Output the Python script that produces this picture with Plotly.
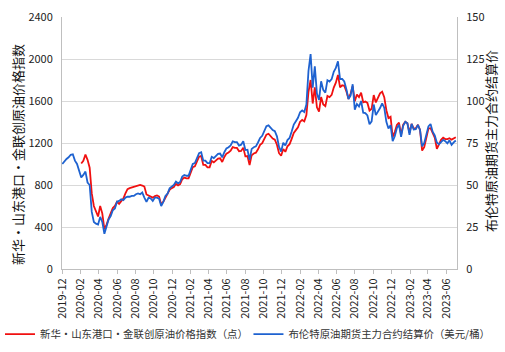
import pandas as pd
import plotly.graph_objects as go

# Brent front-month settlement (USD/bbl), weekly from 2019-12-02
brent = [
    # 2019-12
    62.5, 64.2, 65.5, 66.5, 68.0,
    # 2020
    68.3, 64.5, 62.5, 58.5,
    54.5, 56.0, 58.0, 51.5,
    50.0, 34.0, 28.0, 27.0, 26.5,
    31.0, 28.0, 21.0, 26.0,
    29.5, 31.5, 35.0, 36.0,
    40.0, 40.5, 41.5, 41.0, 42.5,
    43.0, 43.0, 43.5, 43.5,
    44.5, 45.0, 44.5, 45.5, 42.5,
    40.0, 42.5, 42.0, 40.5,
    42.5, 42.5, 41.8, 37.5,
    40.0, 43.5, 44.8, 48.0, 49.0,
    50.0, 52.0, 51.0, 51.8,
    # 2021
    55.0, 56.0, 55.5, 55.5,
    59.0, 62.5, 63.0, 66.0,
    69.0, 69.5, 64.5, 64.5, 63.0,
    63.0, 66.8, 66.0, 67.0,
    68.5, 68.7, 66.5, 69.5, 71.8,
    72.5, 73.5, 76.0, 75.5,
    75.5, 73.5, 74.0, 76.0,
    70.8, 71.0, 65.0, 71.5, 72.5,
    73.0, 75.3, 78.0, 79.3,
    82.5, 85.0, 85.5, 84.0,
    82.7, 82.0, 79.0, 72.7, 69.9,
    75.2, 73.5, 76.8, 78.0,
    # 2022
    81.8, 86.0, 88.0, 90.0, 93.3,
    94.4, 93.5, 97.9, 118.0,
    127.9, 107.9, 120.7, 104.4,
    100.6, 111.7, 106.6, 105.0,
    112.4, 111.6, 113.0, 117.4, 119.7,
    123.6, 113.1, 113.1, 111.6,
    107.0, 101.2, 103.2, 110.0,
    94.9, 98.2, 96.7, 100.0, 93.0,
    92.8, 91.4, 86.2, 87.9,
    97.9, 91.6, 93.5, 95.8, 98.6,
    96.0, 87.6, 83.6, 85.6,
    76.1, 79.0, 83.9, 85.9,
    # 2023
    78.6, 85.3, 87.6, 86.7, 79.9,
    86.4, 83.0, 83.2, 85.8,
    82.8, 73.0, 75.0, 79.9,
    84.9, 86.3, 81.7, 79.5,
    75.3, 74.2, 75.6, 76.9, 76.1,
    74.8, 76.6, 73.9, 75.4,
    76.5,
]

# Xinhua-Shandong Port-JLC crude oil price index (points), weekly from 2020-02-03
index_pts = [
    # 2020
    1005, 1030, 1090, 1040,
    965, 720, 600, 540, 500,
    600, 530, 380, 420,
    480, 530, 580, 600,
    640, 620, 640, 670, 720,
    760, 770, 775, 780,
    785, 790, 800, 795, 785,
    710, 700, 690, 680,
    695, 700, 690, 615,
    640, 680, 710, 755, 770,
    780, 812, 796, 809,
    # 2021
    855, 871, 863, 863,
    914, 970, 978, 1026,
    1069, 1077, 992, 992, 968,
    968, 1029, 1016, 1032,
    1051, 1054, 1019, 1067, 1099,
    1110, 1126, 1161, 1153,
    1153, 1121, 1124, 1156,
    1073, 1076, 990, 1084, 1100,
    1108, 1140, 1183, 1199,
    1245, 1280, 1288, 1264,
    1243, 1232, 1184, 1103, 1078,
    1143, 1116, 1169, 1188,
    # 2022
    1239, 1296, 1323, 1350, 1403,
    1420, 1406, 1466, 1688,
    1800, 1576, 1731, 1540,
    1500, 1637, 1566, 1550,
    1648, 1636, 1658, 1728, 1775,
    1848, 1730, 1750, 1746,
    1692, 1620, 1671, 1740,
    1598, 1661, 1637, 1680, 1588,
    1595, 1582, 1509, 1526,
    1656, 1586, 1626, 1673, 1688,
    1636, 1512, 1438, 1450,
    1258, 1304, 1372, 1394,
    # 2023
    1278, 1375, 1402, 1387, 1298,
    1382, 1338, 1341, 1373,
    1325, 1128, 1160, 1258,
    1338, 1341, 1287, 1252,
    1145, 1197, 1230, 1250, 1238,
    1237, 1246, 1232, 1246,
    1254,
]

brent_dates = pd.date_range("2019-12-02", periods=len(brent), freq="7D")
index_dates = pd.date_range("2020-02-03", periods=len(index_pts), freq="7D")

name_index = "新华・山东港口・金联创原油价格指数（点）"
name_brent = "布伦特原油期货主力合约结算价（美元/桶）"
title_left = "新华・山东港口・金联创原油价格指数"
title_right = "布伦特原油期货主力合约结算价"

RED = "#F01010"
BLUE = "#1E62D0"
AXIS = "#BFBFBF"
GRID = "#D9D9D9"
FONT = "Noto Sans CJK SC, DejaVu Sans, sans-serif"

fig = go.Figure()
fig.add_trace(go.Scatter(x=index_dates, y=index_pts, name=name_index, mode="lines",
                         line=dict(color=RED, width=1.8), yaxis="y", legend="legend"))
fig.add_trace(go.Scatter(x=brent_dates, y=brent, name=name_brent, mode="lines",
                         line=dict(color=BLUE, width=1.8), yaxis="y2", legend="legend2"))

legend_common = dict(orientation="h", xanchor="left", xref="container", yref="container",
                     y=0.051, yanchor="middle",
                     font=dict(size=10.4, color="#333"), bgcolor="rgba(0,0,0,0)",
                     borderwidth=0)

title_font = dict(size=13, color="#111")

fig.update_layout(
    width=505, height=352,
    margin=dict(l=62, r=48, t=17, b=83),
    paper_bgcolor="white", plot_bgcolor="white",
    font=dict(family=FONT, size=11, color="#222"),
    showlegend=True,
    legend=dict(x=-0.028, **legend_common),
    legend2=dict(x=0.492, **legend_common),
    xaxis=dict(type="date", range=["2019-12-01", "2023-07-07"], tick0="2019-12-01",
               dtick="M2", tickformat="%Y-%m", tickangle=-90, ticks="outside",
               ticklen=4, tickcolor=AXIS, showline=True, linecolor=AXIS,
               showgrid=False, zeroline=False, automargin=False,
               tickfont=dict(size=11, color="#222")),
    yaxis=dict(range=[0, 2400], dtick=400, showgrid=True, gridcolor=GRID,
               showline=True, linecolor=AXIS, zeroline=False, ticks="",
               automargin=False,
               ticklabelstandoff=6, tickfont=dict(size=11, color="#222")),
    yaxis2=dict(range=[0, 150], dtick=25, overlaying="y", side="right",
                showgrid=False, showline=True, linecolor=AXIS, zeroline=False,
                ticks="", automargin=False, ticklabelstandoff=6,
                tickfont=dict(size=11, color="#222")),
    annotations=[
        dict(text=title_left, xref="paper", yref="paper", x=0, y=0.452,
             xanchor="center", yanchor="middle", xshift=-45, textangle=-90,
             showarrow=False, font=title_font),
        dict(text=title_right, xref="paper", yref="paper", x=1, y=0.508,
             xanchor="center", yanchor="middle", xshift=34, textangle=-90,
             showarrow=False, font=title_font),
    ],
)

fig.write_html("out.html")
